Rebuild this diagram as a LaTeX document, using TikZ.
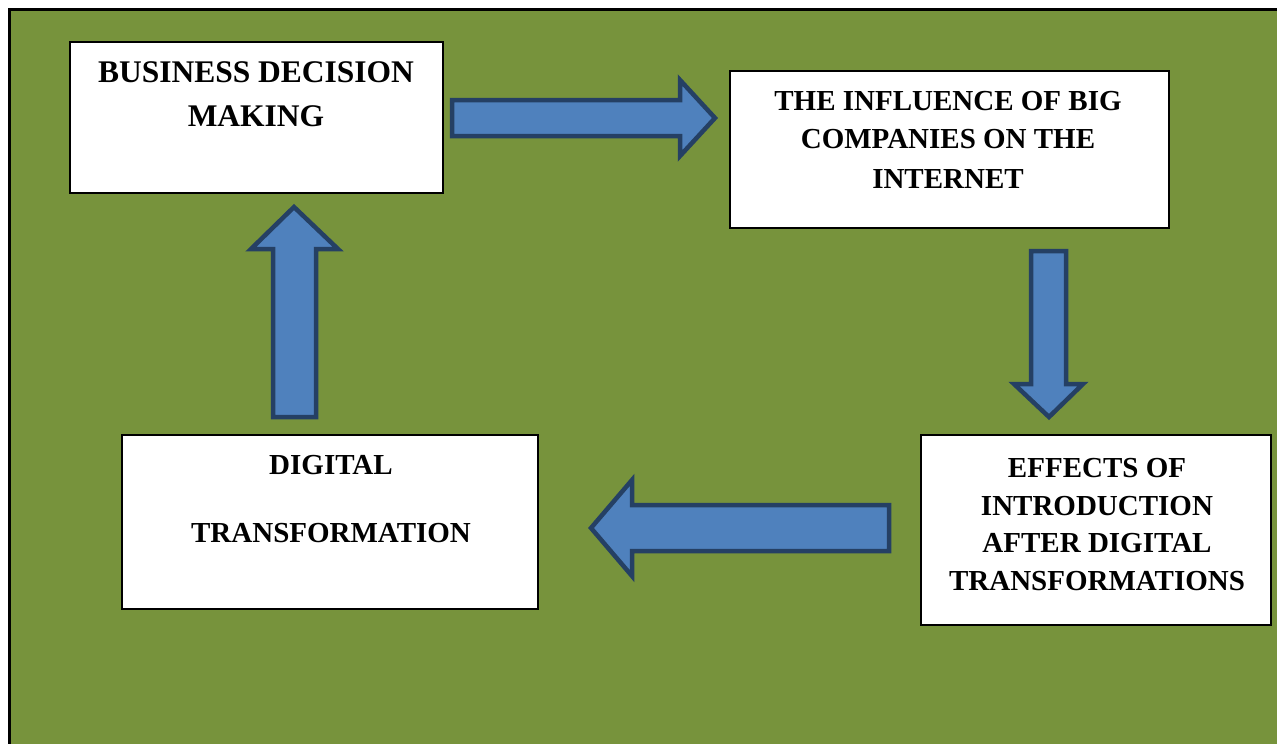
\documentclass[tikz,border=0pt]{standalone}
\usepackage{fontspec}
\setmainfont{Liberation Serif}
\definecolor{bggreen}{RGB}{119,147,60}
\definecolor{arrowfill}{RGB}{79,129,189}
\definecolor{arrowline}{RGB}{37,64,100}
\tikzset{
  box/.style={draw=black, fill=white, line width=2pt, inner sep=0pt},
  txt/.style={inner sep=0pt, anchor=base, font=\bfseries\fontsize{29}{34}\selectfont},
  bigtxt/.style={inner sep=0pt, anchor=base, font=\bfseries\fontsize{31.5}{36}\selectfont},
  blockarrow/.style={draw=arrowline, fill=arrowfill, line width=4.5pt, line join=miter, miter limit=10}
}
\begin{document}
\begin{tikzpicture}[x=1pt,y=-1pt]
\useasboundingbox (0,0) rectangle (1277,744);
\fill[white] (0,0) rectangle (1277,744);
\fill[bggreen] (9,9) rectangle (1277,744);
\draw[black, line width=3pt] (9.5,744) -- (9.5,9.5) -- (1277,9.5);

% boxes
\node[box, minimum width=373pt, minimum height=151pt] (b1) at (256.5,117.5) {};
\node[box, minimum width=439pt, minimum height=157pt] (b2) at (949.5,149.5) {};
\node[box, minimum width=416pt, minimum height=174pt] (b3) at (330,522) {};
\node[box, minimum width=350pt, minimum height=190pt] (b4) at (1096,530) {};

% texts
\node[bigtxt] (b1l1) at (256,82.5) {BUSINESS DECISION};
\node[bigtxt] (b1l2) at (256,126) {MAKING};

\node[txt] (b2l1) at (948,110.5) {THE INFLUENCE OF BIG};
\node[txt] (b2l2) at (948,148.5) {COMPANIES ON THE};
\node[txt] (b2l3) at (948,188.5) {INTERNET};

\node[txt] (b3l1) at (331,474.5) {DIGITAL};
\node[txt] (b3l2) at (331,542) {TRANSFORMATION};

\node[txt] (b4l1) at (1097,477.5) {EFFECTS OF};
\node[txt] (b4l2) at (1097,515.5) {INTRODUCTION};
\node[txt] (b4l3) at (1097,552) {AFTER DIGITAL};
\node[txt] (b4l4) at (1097,590.5) {TRANSFORMATIONS};

% block arrows
% right arrow
\draw[blockarrow] (452,100) -- (680,100) -- (680,80) -- (715,118) -- (680,156) -- (680,136) -- (452,136) -- cycle;
% down arrow
\draw[blockarrow] (1031,251) -- (1066,251) -- (1066,384) -- (1083,384) -- (1049,417) -- (1014,384) -- (1031,384) -- cycle;
% left arrow
\draw[blockarrow] (889,505) -- (632,505) -- (632,480) -- (591,528) -- (632,576) -- (632,551) -- (889,551) -- cycle;
% up arrow
\draw[blockarrow] (273,417) -- (273,249) -- (251,249) -- (294,207) -- (338,249) -- (316,249) -- (316,417) -- cycle;
\end{tikzpicture}
\end{document}
